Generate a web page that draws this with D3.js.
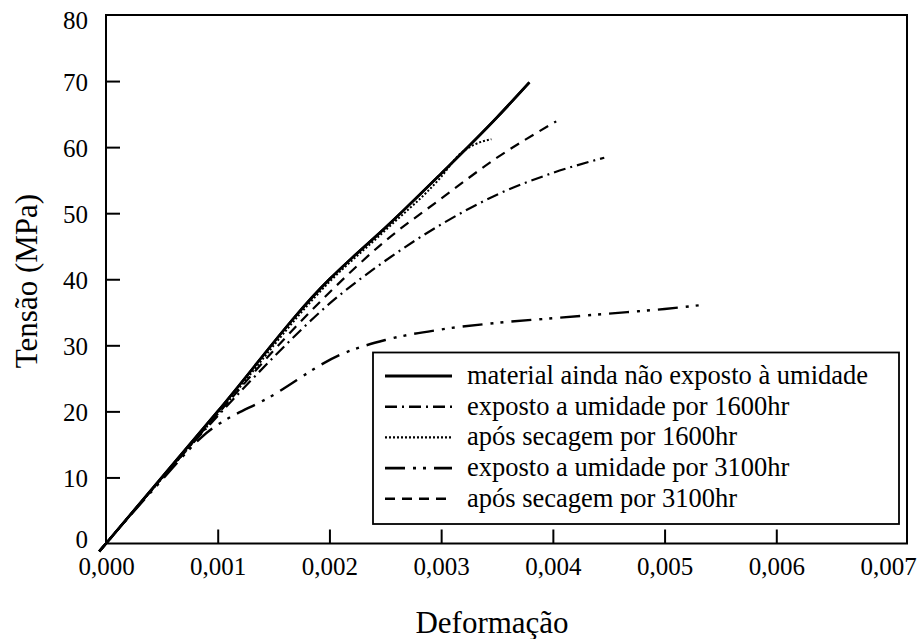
<!DOCTYPE html>
<html><head><meta charset="utf-8">
<script src="https://cdn.jsdelivr.net/npm/d3@7"></script>
</head><body style="margin:0;background:#fff">
<script>
// Data (strain, stress MPa)
const naoExpostoX = [-0.00006, 0.0, 0.0010, 0.0020, 0.0022, 0.0025, 0.0030, 0.0035, 0.00379];
const naoExpostoY = [-1.2, 0.0, 20.0, 40.0, 43.2, 47.8, 56.0, 64.5, 69.8];
const exp1600X = [-0.00006, 0.0, 0.0005, 0.0010, 0.0015, 0.0020, 0.0025, 0.0030, 0.0035, 0.0040, 0.00446];
const exp1600Y = [-1.2, 0.0, 9.9, 19.3, 28.2, 36.3, 42.8, 48.3, 52.8, 56.1, 58.4];
const sec1600X = [-0.00006, 0.0, 0.0010, 0.0020, 0.0025, 0.0030, 0.00317, 0.0033, 0.00345];
const sec1600Y = [-1.2, 0.0, 19.6, 39.6, 47.4, 55.5, 59.0, 60.4, 61.2];
const exp3100X = [-0.00006, 0.0, 0.0005, 0.00085, 0.0015, 0.0021, 0.0025, 0.0030, 0.0035, 0.0040, 0.0045, 0.0050, 0.00533];
const exp3100Y = [-1.2, 0.0, 9.6, 16.0, 22.5, 28.6, 30.8, 32.4, 33.4, 34.1, 34.8, 35.5, 36.1];
const sec3100X = [-0.00006, 0.0, 0.0005, 0.0010, 0.0015, 0.0020, 0.0025, 0.0030, 0.0035, 0.00403];
const sec3100Y = [-1.2, 0.0, 9.9, 19.6, 29.2, 38.0, 45.8, 52.2, 58.4, 63.9];

const seriesNames = ["material ainda não exposto à umidade","exposto a umidade por 1600hr","após secagem por 1600hr","exposto a umidade por 3100hr","após secagem por 3100hr"];
const xTicks = [0,0.001,0.002,0.003,0.004,0.005,0.006,0.007];
const yTicks = [0,10,20,30,40,50,60,70,80];
const xTitle = "Deformação";
const yTitle = "Tensão (MPa)";

const FONT = "'Liberation Serif', 'Times New Roman', serif";
const styles = [
  {dash:null, w:2.6},
  {dash:"12,5,2,5", w:2.2},
  {dash:"2,2", w:2},
  {dash:"20,8,3,7,3,8", w:2.4},
  {dash:"10,7", w:2.2}
];
const data = [
  [naoExpostoX,naoExpostoY],[exp1600X,exp1600Y],[sec1600X,sec1600Y],[exp3100X,exp3100Y],[sec3100X,sec3100Y]
];

const W=922,H=639;
const svg=d3.select("body").append("svg").attr("width",W).attr("height",H).style("display","block");
const pL=106, pR=907, pT=15, pB=543.5;
const x=d3.scaleLinear().domain([0,0.00717]).range([pL,pR]);
const y=d3.scaleLinear().domain([0,80]).range([pB,pT]);

// frame
svg.append("rect").attr("x",pL).attr("y",pT).attr("width",pR-pL).attr("height",pB-pT)
  .attr("fill","none").attr("stroke","#000").attr("stroke-width",2);

// x ticks
const fmt = d=>d3.format(".3f")(d).replace(".",",");
const xa = svg.append("g").attr("transform",`translate(0,${pB})`)
  .call(d3.axisBottom(x).tickValues(xTicks).tickSize(-14).tickFormat(fmt).tickPadding(14));
xa.select(".domain").remove();
xa.selectAll(".tick line").attr("stroke","#000").attr("stroke-width",2)
  .attr("display",d=>d===0||d===0.007?"none":null);
xa.selectAll(".tick text").attr("fill","#000").attr("dy","0.71em")
  .style("font-family",FONT).style("font-size","25px");

const ya = svg.append("g").attr("transform",`translate(${pL},0)`)
  .call(d3.axisLeft(y).tickValues(yTicks).tickSize(-14).tickPadding(18));
ya.select(".domain").remove();
ya.selectAll(".tick line").attr("stroke","#000").attr("stroke-width",2)
  .attr("display",d=>d===0||d===80?"none":null);
ya.selectAll(".tick text").attr("fill","#000").attr("text-anchor","end")
  .attr("dy",d=>d===0?"0.15em":d===80?"0.55em":"0.36em")
  .style("font-family",FONT).style("font-size","25px");

// curves
const line=d3.line().x(d=>x(d[0])).y(d=>y(d[1])).curve(d3.curveMonotoneX);
data.forEach((s,i)=>{
  const pts=s[0].map((v,j)=>[v,s[1][j]]);
  svg.append("path").datum(pts).attr("d",line).attr("fill","none").attr("stroke","#000")
    .attr("stroke-width",styles[i].w).attr("stroke-dasharray",styles[i].dash);
});
// redraw solid on top
{
  const pts=naoExpostoX.map((v,j)=>[v,naoExpostoY[j]]);
  svg.append("path").datum(pts).attr("d",line).attr("fill","none").attr("stroke","#000").attr("stroke-width",2.6);
}

// legend
const lg=svg.append("g");
lg.append("rect").attr("x",373).attr("y",352.5).attr("width",526).attr("height",171.5)
  .attr("fill","#fff").attr("stroke","#000").attr("stroke-width",1.8);
seriesNames.forEach((n,i)=>{
  const yy=376+i*30.7;
  lg.append("line").attr("x1",385).attr("x2",452).attr("y1",yy).attr("y2",yy)
    .attr("stroke","#000").attr("stroke-width",styles[i].w+0.4).attr("stroke-dasharray",styles[i].dash);
  lg.append("text").attr("x",467).attr("y",yy+8).style("font-family",FONT).style("font-size","26.5px").text(n);
});

// titles
svg.append("text").attr("x",492).attr("y",633).attr("text-anchor","middle")
  .style("font-family",FONT).style("font-size","31px").text(xTitle);
svg.append("text").attr("transform","translate(37,281) rotate(-90)").attr("text-anchor","middle")
  .style("font-family",FONT).style("font-size","31px").text(yTitle);
</script>
</body></html>
